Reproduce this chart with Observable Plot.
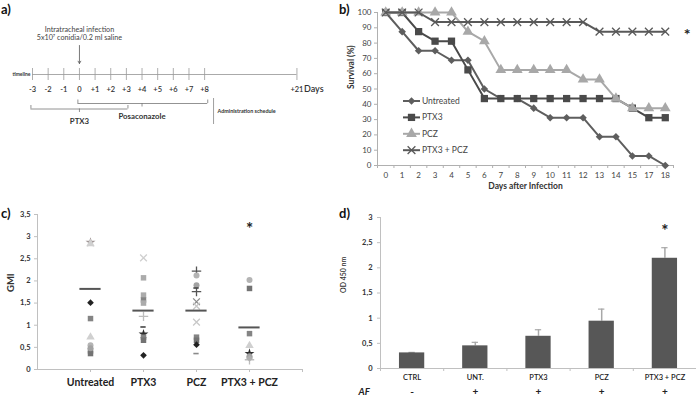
<!DOCTYPE html>
<html><head><meta charset="utf-8">
<script src="https://cdn.jsdelivr.net/npm/d3@7"></script>
<script src="https://cdn.jsdelivr.net/npm/@observablehq/plot@0.6"></script>
<style>
body{margin:0;background:#fff;font-family:Lato,"Open Sans",sans-serif;}
#fig{position:relative;width:696px;height:400px;overflow:hidden;background:#fff;}
.panel{position:absolute;}
.plab{position:absolute;font-weight:bold;font-size:13px;color:#111;line-height:1;}
</style></head><body>
<div id="fig">
  <div class="panel" id="pa" style="left:0;top:0"></div>
  <div class="panel" id="pb" style="left:340px;top:0"></div>
  <div class="panel" id="pc" style="left:0;top:200px"></div>
  <div class="panel" id="pd" style="left:336px;top:200px"></div>
  <div class="panel" id="legb" style="left:400px;top:92px"></div>
  <div class="plab" style="left:1px;top:3px">a)</div>
  <div class="plab" style="left:339px;top:3px">b)</div>
  <div class="plab" style="left:1px;top:207px">c)</div>
  <div class="plab" style="left:339px;top:207px">d)</div>
</div>
<script>
const FONT = "Lato, 'Open Sans', sans-serif";

// ---------- Panel a: treatment timeline ----------
const timelineDays = [-3,-2,-1,0,1,2,3,4,5,6,7,8];
const timelineLabels = ["-3","-2","-1","0","+1","+2","+3","+4","+5","+6","+7","+8"];
const lastDayLabel = "+21";
const lastDayPos = 13.9;           // broken axis position of day +21
const infectionDay = 0;
const infectionText = ["Intratracheal infection", "5x10\u2077 conidia/0.2 ml saline"];
const scheduleDrugs = ["Posaconazole", "PTX3"];
const scheduleStart = [-0.1, -3.1];
const scheduleEnd = [8.2, 3.1];
const scheduleMid = [4, 0];

// ---------- Panel b: survival ----------
const survivalDays = ["0","1","2","3","4","5","6","7","8","9","10","11","12","13","14","15","17","18"];
const survUntreated = [100,87.5,75,75,68.75,68.75,50,43.75,43.75,37.5,31.25,31.25,31.25,18.75,18.75,6.25,6.25,0];
const survPTX3 = [100,100,87.5,81.25,81.25,62.5,43.75,43.75,43.75,43.75,43.75,43.75,43.75,43.75,43.75,37.5,31.25,31.25];
const survPCZ = [100,100,100,100,100,87.5,81.25,62.5,62.5,62.5,62.5,62.5,56.25,56.25,43.75,37.5,37.5,37.5];
const survCombo = [100,100,100,93.75,93.75,93.75,93.75,93.75,93.75,93.75,93.75,93.75,93.75,87.5,87.5,87.5,87.5,87.5];
const survSeriesNames = ["Untreated","PTX3","PCZ","PTX3 + PCZ"];

// ---------- Panel c: GMI ----------
const gmiGroups = ["Untreated","PTX3","PCZ","PTX3 + PCZ"];
const gmiUntreated = [2.87,2.84,1.51,1.15,0.73,0.55,0.48,0.42,0.36];
const gmiUntreatedMarker = ["star","tri","dkdiamond","sq","tri","circ","circ2","sq","sq2"];
const gmiPTX3 = [2.52,2.07,1.68,1.57,1.5,1.2,0.96,0.8,0.73,0.66,0.32];
const gmiPTX3Marker = ["times","sqlt","sqlt","sq","sqlt","plus","dash","dkstar","sq","sq2","dkdiamond"];
const gmiPCZ = [2.22,2.12,1.9,1.84,1.76,1.53,1.43,1.07,0.73,0.66,0.56,0.36];
const gmiPCZMarker = ["dkplus","circ","circ2","dash","dkplus","times2","timeslt","timeslt","sq","sq2","dkdiamond","dashlt"];
const gmiCombo = [2.02,1.83,0.81,0.54,0.36,0.3,0.25,0.22];
const gmiComboMarker = ["circ","sq2","sq","tri","dkstar","circ2","ltdiamond","plus"];
const gmiMeans = [1.82,1.33,1.33,0.95];

// ---------- Panel d: OD 450 ----------
const odGroups = ["CTRL","UNT.","PTX3","PCZ","PTX3 + PCZ"];
const odValues = [0.31,0.45,0.64,0.94,2.19];
const odErrors = [0.01,0.07,0.13,0.24,0.21];
const odAF = ["-","+","+","+","+"];

// =============== Panel a =================
{
  const scheduleRows = [103, 108.5];      // vertical row of each bracket
  const labelRows = [116, 120.5];
  const brackets = scheduleDrugs.map((d,i)=>({drug:d, x1:scheduleStart[i], x2:scheduleEnd[i], mid:scheduleMid[i], y:scheduleRows[i], ly:labelRows[i]}));
  const hooks = brackets.flatMap(b=>[{x:b.x1,y1:b.y,y2:b.y-3.5},{x:b.x2,y1:b.y,y2:b.y-3.5},{x:b.mid,y1:b.y,y2:b.y+3.5}]);
  const allTicks = timelineDays.map((d,i)=>({x:d,label:timelineLabels[i]})).concat([{x:lastDayPos,label:lastDayLabel}]);
  const p = Plot.plot({
    width:348, height:200, marginLeft:32, marginRight:50, marginTop:0, marginBottom:0,
    x:{domain:[-3,14], axis:null},
    y:{domain:[200,0], axis:null},
    style:{fontFamily:FONT, color:"#333", background:"transparent"},
    marks:[
      Plot.ruleY([74], {x1:-3, x2:lastDayPos, stroke:"#aaa", strokeWidth:1}),
      Plot.ruleX(allTicks, {x:"x", y1:68, y2:80, stroke:"#999", strokeWidth:0.8}),
      Plot.text(allTicks, {x:"x", y:89, text:"label", fontSize:7.5, fontWeight:600, fill:"#333"}),
      Plot.text(["Days"], {x:lastDayPos, y:89, dx:7, textAnchor:"start", fontSize:9, fontWeight:600, fill:"#333"}),
      Plot.text(["timeline"], {x:-3, y:74, dx:-2, textAnchor:"end", fontSize:5, fontWeight:700, fill:"#333"}),
      Plot.text(infectionText, {x:infectionDay, y:(d,i)=>29.5+i*8, text:d=>d, fontSize:7.2, fill:"#444"}),
      Plot.arrow([infectionDay], {x1:d=>d, x2:d=>d, y1:45, y2:63, stroke:"#555", strokeWidth:0.8, headLength:5}),
      Plot.ruleY(brackets, {x1:"x1", x2:"x2", y:"y", stroke:"#777", strokeWidth:0.8}),
      Plot.ruleX(hooks, {x:"x", y1:"y1", y2:"y2", stroke:"#777", strokeWidth:0.8}),
      Plot.text(brackets, {x:"mid", y:"ly", text:"drug", fontSize:7.8, fontWeight:700, fill:"#333"}),
      Plot.ruleX([8.57], {y1:98, y2:124, stroke:"#888", strokeWidth:0.8}),
      Plot.text(["Administration schedule"], {x:8.57, y:110.5, dx:4, textAnchor:"start", fontSize:5.4, fontWeight:700, fill:"#333"})
    ]
  });
  document.getElementById("pa").append(p);
}

// =============== Panel b =================
const survStyles = {
  "Untreated": {color:"#5e5e5e", symbol:"diamond2", r:3.4, fill:true},
  "PTX3": {color:"#4a4a4a", symbol:"square", r:4.1, fill:true},
  "PCZ": {color:"#a8a8a8", symbol:"triangle", r:4, fill:true},
  "PTX3 + PCZ": {color:"#595959", symbol:"times", r:3.6, fill:false}
};
{
  const seriesVals = [survUntreated, survPTX3, survPCZ, survCombo];
  const rows = survSeriesNames.flatMap((s,k)=>seriesVals[k].map((v,i)=>({s, i, v})));
  const marks = [
    Plot.ruleY([0], {stroke:"#b0b0b0"}),
    Plot.ruleX([-0.5], {stroke:"#b0b0b0"}),
    Plot.axisY({ticks:d3.range(0,101,10), tickSize:3, tickPadding:3, stroke:"#b0b0b0", fontSize:8, fill:"#444", label:null}),
    Plot.axisX({ticks:d3.range(18), tickSize:0, tickPadding:7, tickFormat:i=>survivalDays[i], fontSize:8, fill:"#444", label:null}),
    Plot.axisX({ticks:d3.range(-0.5,18,1), tickSize:3, tickFormat:()=> "", stroke:"#b0b0b0", label:null}),
    Plot.text(["Days after Infection"], {frameAnchor:"bottom", dy:23, fontSize:8.5, fontWeight:700, fill:"#333"}),
    Plot.text(["Survival (%)"], {frameAnchor:"left", dx:-26, rotate:-90, fontSize:8.5, fontWeight:700, fill:"#333"}),
    Plot.text([survCombo[survCombo.length-1]], {x:survCombo.length-1, y:d=>d, dx:22, dy:3, text:()=>"*", fontSize:16, fontWeight:700, fill:"#222"})
  ];
  for (const s of survSeriesNames) {
    const st = survStyles[s];
    const data = rows.filter(d=>d.s===s);
    marks.push(Plot.line(data, {x:"i", y:"v", stroke:st.color, strokeWidth:2}));
    marks.push(Plot.dot(data, {x:"i", y:"v", symbol:()=>st.symbol, r:st.r,
      fill: st.fill ? st.color : "none", stroke: st.fill ? "none" : st.color, strokeWidth:1.3}));
  }
  const p = Plot.plot({
    width:356, height:200, marginLeft:37, marginRight:23, marginTop:12, marginBottom:35,
    x:{type:"linear", domain:[-0.5,17.5], axis:null},
    y:{domain:[0,100], axis:null},
    symbol:{type:"identity"},
    style:{fontFamily:FONT, background:"transparent"},
    marks
  });
  document.getElementById("pb").append(p);

  // legend
  const svg = d3.create("svg").attr("width",90).attr("height",66).style("font-family",FONT).style("overflow","visible");
  const symMap = {diamond2:d3.symbolDiamond2, square:d3.symbolSquare, triangle:d3.symbolTriangle, times:d3.symbolTimes};
  survSeriesNames.forEach((s,k)=>{
    const st = survStyles[s];
    const y = 9 + k*16.4;
    svg.append("line").attr("x1",3).attr("x2",20).attr("y1",y).attr("y2",y).attr("stroke",st.color).attr("stroke-width",2);
    svg.append("path").attr("transform",`translate(11.5,${y})`)
      .attr("d", d3.symbol(symMap[st.symbol], Math.PI*st.r*st.r)())
      .attr("fill", st.fill?st.color:"none").attr("stroke", st.fill?"none":st.color).attr("stroke-width",1.3);
    svg.append("text").attr("x",22).attr("y",y).attr("dy","0.35em").attr("font-size",8.5).attr("fill","#444").text(s);
  });
  document.getElementById("legb").append(svg.node());
}

// =============== Panel c =================
const markerStyles = {
  star:{symbol:"star", color:"#a09696", fill:true, r:3.3},
  dkstar:{symbol:"star", color:"#2e2e2e", fill:true, r:3.2},
  tri:{symbol:"triangle", color:"#d0d0d0", fill:true, r:3.3},
  dkdiamond:{symbol:"diamond2", color:"#222", fill:true, r:3},
  ltdiamond:{symbol:"diamond2", color:"#b0b0b0", fill:true, r:3},
  sq:{symbol:"square", color:"#848484", fill:true, r:3.2},
  sq2:{symbol:"square", color:"#737373", fill:true, r:3.2},
  sqlt:{symbol:"square", color:"#ababab", fill:true, r:3.2},
  circ:{symbol:"circle", color:"#b4b4b4", fill:true, r:3},
  circ2:{symbol:"circle", color:"#a2a2a2", fill:true, r:3},
  times:{symbol:"times", color:"#cfcfcf", fill:false, r:3.3},
  times2:{symbol:"times", color:"#8a8a8a", fill:false, r:3.3},
  timeslt:{symbol:"times", color:"#c8c8c8", fill:false, r:3.3},
  plus:{symbol:"plus", color:"#bdbdbd", fill:false, r:3.3},
  dkplus:{symbol:"plus", color:"#555", fill:false, r:3.3},
  dash:{dash:true, color:"#444"},
  dashlt:{dash:true, color:"#8a8a8a"}
};
{
  const vals = [gmiUntreated, gmiPTX3, gmiPCZ, gmiCombo];
  const mk = [gmiUntreatedMarker, gmiPTX3Marker, gmiPCZMarker, gmiComboMarker];
  const pts = vals.flatMap((arr,g)=>arr.map((v,i)=>({g:g+1, v, st:markerStyles[mk[g][i]]})));
  const dots = pts.filter(d=>!d.st.dash);
  const dashes = pts.filter(d=>d.st.dash);
  const means = gmiMeans.map((m,g)=>({g:g+1, m}));
  const comma = d=>String(d).replace(".",",");
  const p = Plot.plot({
    width:348, height:200, marginLeft:37, marginRight:46, marginTop:14, marginBottom:31,
    x:{domain:[0,5], axis:null},
    y:{domain:[0,3.5], axis:null},
    symbol:{type:"identity"},
    style:{fontFamily:FONT, background:"transparent"},
    marks:[
      Plot.ruleY([0], {stroke:"#c0c0c0"}),
      Plot.ruleX([0], {stroke:"#c0c0c0"}),
      Plot.axisY({ticks:d3.range(0,3.51,0.5), tickSize:3, tickPadding:4, tickFormat:comma, stroke:"#c0c0c0", fontSize:7.5, fontWeight:700, fill:"#333", label:null}),
      Plot.axisX({ticks:[1,2,3,4,5], tickSize:3, tickFormat:()=> "", stroke:"#c0c0c0", label:null}),
      Plot.axisX({ticks:[1,2,3,4], tickSize:0, tickPadding:9, tickFormat:d=>gmiGroups[d-1], fontSize:10.5, fontWeight:700, fill:"#222", label:null}),
      Plot.text(["GMI"], {frameAnchor:"left", dx:-27, rotate:-90, fontSize:9.5, fontWeight:700, fill:"#333"}),
      Plot.dot(dots, {x:"g", y:"v", symbol:d=>d.st.symbol, r:d=>d.st.r,
        fill:d=>d.st.fill?d.st.color:"transparent", stroke:d=>d.st.fill?"transparent":d.st.color, strokeWidth:1.3}),
      Plot.ruleY(dashes, {x1:d=>d.g-0.05, x2:d=>d.g+0.05, y:"v", stroke:d=>d.st.color, strokeWidth:1.6}),
      Plot.ruleY(means, {x1:d=>d.g-0.2, x2:d=>d.g+0.2, y:"m", stroke:"#555", strokeWidth:2}),
      Plot.text([gmiGroups.length], {x:d=>d, frameAnchor:"top", dy:8, text:()=>"*", fontSize:17, fontWeight:700, fill:"#222"})
    ]
  });
  document.getElementById("pc").append(p);
}

// =============== Panel d =================
{
  const bars = odGroups.map((g,i)=>({i, g, v:odValues[i], e:odErrors[i], af:odAF[i]}));
  const comma = d=>String(d).replace(".",",");
  const p = Plot.plot({
    width:360, height:200, marginLeft:44, marginRight:0, marginTop:17, marginBottom:32,
    x:{domain:[0,5], axis:null},
    y:{domain:[0,3], axis:null},
    style:{fontFamily:FONT, background:"transparent"},
    marks:[
      Plot.ruleY([0], {stroke:"#c0c0c0"}),
      Plot.ruleX([0], {stroke:"#c0c0c0"}),
      Plot.axisY({ticks:d3.range(0,3.01,0.5), tickSize:3, tickPadding:5, tickFormat:comma, stroke:"#c0c0c0", fontSize:7.5, fontWeight:700, fill:"#333", label:null}),
      Plot.axisX({ticks:[0,1,2,3,4,5], tickSize:3, tickFormat:()=> "", stroke:"#c0c0c0", label:null}),
      Plot.text(bars, {x:d=>d.i+0.5, text:"g", frameAnchor:"bottom", dy:11, fontSize:7.5, fontWeight:600, fill:"#222"}),
      Plot.text(bars, {x:d=>d.i+0.5, text:"af", frameAnchor:"bottom", dy:26, fontSize:10, fontWeight:700, fill:"#222"}),
      Plot.text(["AF"], {frameAnchor:"bottom-left", dx:-22, dy:26, textAnchor:"start", fontSize:9.5, fontWeight:700, fontStyle:"italic", fill:"#222"}),
      Plot.text(["OD 450 nm"], {frameAnchor:"left", dx:-37, rotate:-90, fontSize:7, fontWeight:600, fill:"#333"}),
      Plot.ruleX(bars, {x:d=>d.i+0.5, y1:"v", y2:d=>d.v+d.e, stroke:"#a8a8a8", strokeWidth:1.5}),
      Plot.ruleY(bars, {x1:d=>d.i+0.45, x2:d=>d.i+0.55, y:d=>d.v+d.e, stroke:"#a8a8a8", strokeWidth:1.2}),
      Plot.rectY(bars, {x1:d=>d.i+0.3, x2:d=>d.i+0.7, y:"v", fill:"#575757"}),
      Plot.text([bars[bars.length-1]], {x:d=>d.i+0.5, frameAnchor:"top", dy:7, text:()=>"*", fontSize:17, fontWeight:700, fill:"#222"})
    ]
  });
  document.getElementById("pd").append(p);
}
</script>
</body></html>
